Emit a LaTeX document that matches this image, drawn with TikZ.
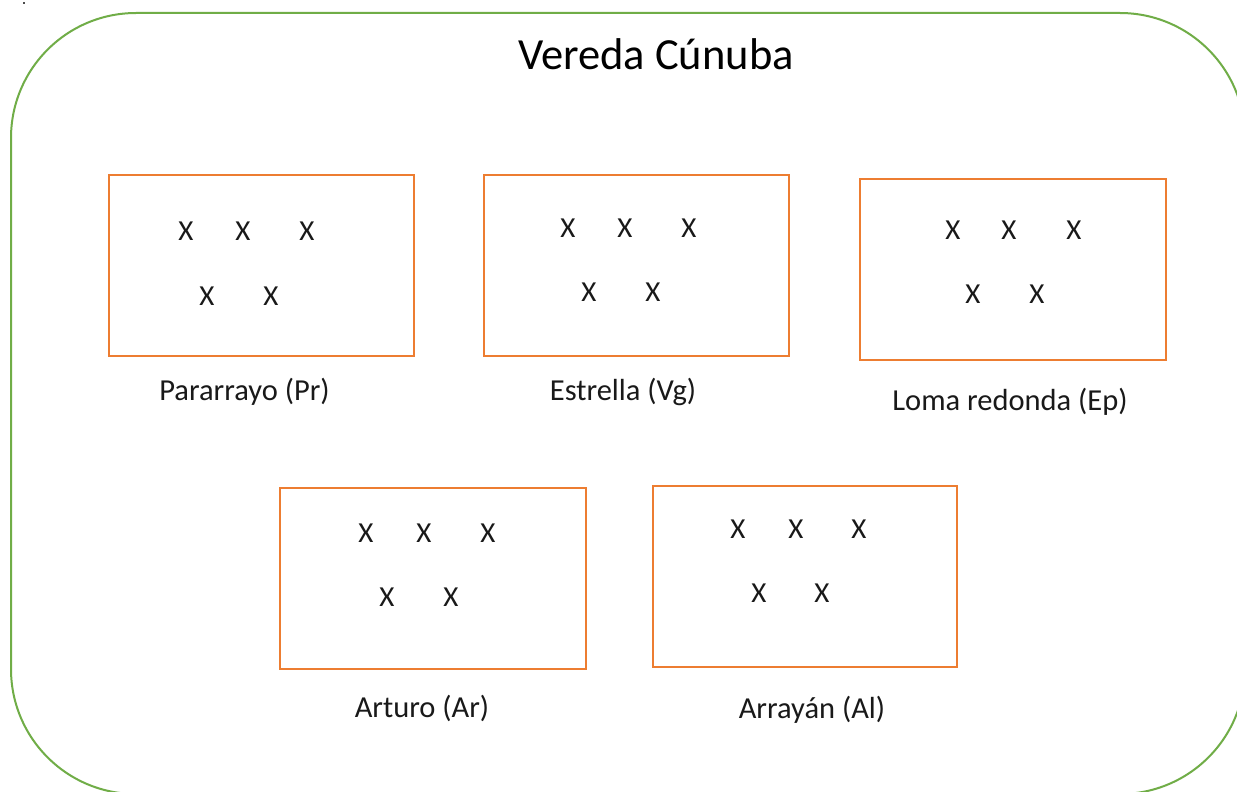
\documentclass[tikz,border=0pt]{standalone}
\usepackage{fontspec}
\setmainfont{Carlito}
\definecolor{outergreen}{HTML}{70AD47}
\definecolor{boxorange}{HTML}{ED7D31}
\begin{document}
\begin{tikzpicture}[x=1pt,y=-1pt,
  zone/.style={draw=boxorange, line width=2pt, rectangle, inner sep=0pt, minimum height=181pt},
  xmark/.style={font=\fontsize{29}{31}\selectfont, inner sep=0pt, text=black!90},
  lbl/.style={font=\fontsize{30.5}{32}\selectfont, inner sep=0pt, anchor=base, text=black!90},
  ttl/.style={font=\fontsize{44.5}{48}\selectfont, inner sep=0pt, anchor=base, text=black}
]
\useasboundingbox (0,0) rectangle (1237,792);
\fill[white] (0,0) rectangle (1237,792);
\begin{scope}
\clip (0,0) rectangle (1237,792);
\node[draw=outergreen, line width=2pt, rounded corners=125pt, inner sep=0pt,
      minimum width=1234pt, minimum height=781pt] (vereda) at (628,403.5) {};
\end{scope}
\node[fill=black!70, inner sep=0pt, minimum size=2pt] (dot) at (24,3) {};

\node[ttl] (title) at (656,70) {Vereda Cúnuba};

% boxes
\node[zone, minimum width=305pt] (pr) at (261.5,265.5) {};
\node[zone, minimum width=305pt] (vg) at (636.5,265.5) {};
\node[zone, minimum width=306pt] (ep) at (1013,269.5) {};
\node[zone, minimum width=306pt] (ar) at (433,578.5) {};
\node[zone, minimum width=304pt] (al) at (805,576.5) {};

% marks Pararrayo
\node[xmark] (pr1) at (186,231) {X};
\node[xmark] (pr2) at (243,231) {X};
\node[xmark] (pr3) at (307,231) {X};
\node[xmark] (pr4) at (207,296) {X};
\node[xmark] (pr5) at (271,296) {X};
% marks Estrella
\node[xmark] (vg1) at (568,228) {X};
\node[xmark] (vg2) at (625,228) {X};
\node[xmark] (vg3) at (689,228) {X};
\node[xmark] (vg4) at (589,292) {X};
\node[xmark] (vg5) at (653,292) {X};
% marks Loma redonda
\node[xmark] (ep1) at (953,230) {X};
\node[xmark] (ep2) at (1009,230) {X};
\node[xmark] (ep3) at (1074,230) {X};
\node[xmark] (ep4) at (973,294) {X};
\node[xmark] (ep5) at (1037,294) {X};
% marks Arturo
\node[xmark] (ar1) at (366,533) {X};
\node[xmark] (ar2) at (424,533) {X};
\node[xmark] (ar3) at (488,533) {X};
\node[xmark] (ar4) at (387,597) {X};
\node[xmark] (ar5) at (451,597) {X};
% marks Arrayan
\node[xmark] (al1) at (738,529) {X};
\node[xmark] (al2) at (796,529) {X};
\node[xmark] (al3) at (859,529) {X};
\node[xmark] (al4) at (759,593) {X};
\node[xmark] (al5) at (822,593) {X};

% labels
\node[lbl] (prl) at (244.5,400) {Pararrayo (Pr)};
\node[lbl] (vgl) at (623,400) {Estrella (Vg)};
\node[lbl] (epl) at (1010,410) {Loma redonda (Ep)};
\node[lbl] (arl) at (422,717) {Arturo (Ar)};
\node[lbl] (all) at (812,718) {Arrayán (Al)};
\end{tikzpicture}
\end{document}
